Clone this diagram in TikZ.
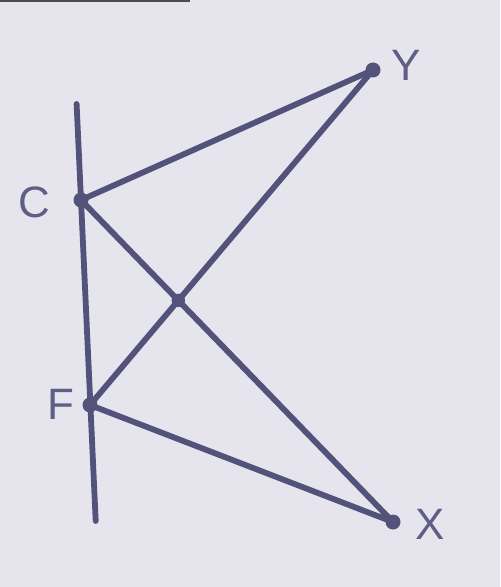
\documentclass[tikz,border=0pt]{standalone}
\usepackage{fontspec}
\setmainfont{Liberation Sans}
\definecolor{bg}{HTML}{E6E5EE}
\definecolor{ink}{HTML}{52527A}
\definecolor{lab}{HTML}{5E5E86}
\begin{document}
\begin{tikzpicture}[x=0.02cm,y=-0.02cm,
  seg/.style={draw=ink,line width=3.3pt,line cap=round},
  pt/.style={circle,fill=ink,inner sep=0pt,minimum size=0.3cm},
  ipt/.style={circle,fill=ink,inner sep=0pt,minimum size=0.27cm},
  lbl/.style={text=lab,font=\fontsize{25}{25}\selectfont,inner sep=0pt}]
\fill[bg] (0,0) rectangle (500,587);
\useasboundingbox (0,0) rectangle (500,587);
\fill[black!70] (0,0) rectangle (190,2.5);
% points
\coordinate (T) at (76.6,104);
\coordinate (B) at (95.7,521);
\node[pt] (C) at (81,200) {};
\node[pt] (F) at (90,405) {};
\node[pt] (Y) at (373,70) {};
\node[pt] (X) at (393,522) {};
\node[ipt] (M) at (178.3,300.4) {};
% lines
\draw[seg] (T) -- (B);
\draw[seg] (C.center) -- (Y.center);
\draw[seg] (C.center) -- (X.center);
\draw[seg] (F.center) -- (Y.center);
\draw[seg] (F.center) -- (X.center);
% labels
\node[lbl] (lC) at (34,202) {C};
\node[lbl] (lF) at (61,404) {F};
\node[lbl] (lY) at (406,65) {Y};
\node[lbl] (lX) at (430,524) {X};
\end{tikzpicture}
\end{document}
